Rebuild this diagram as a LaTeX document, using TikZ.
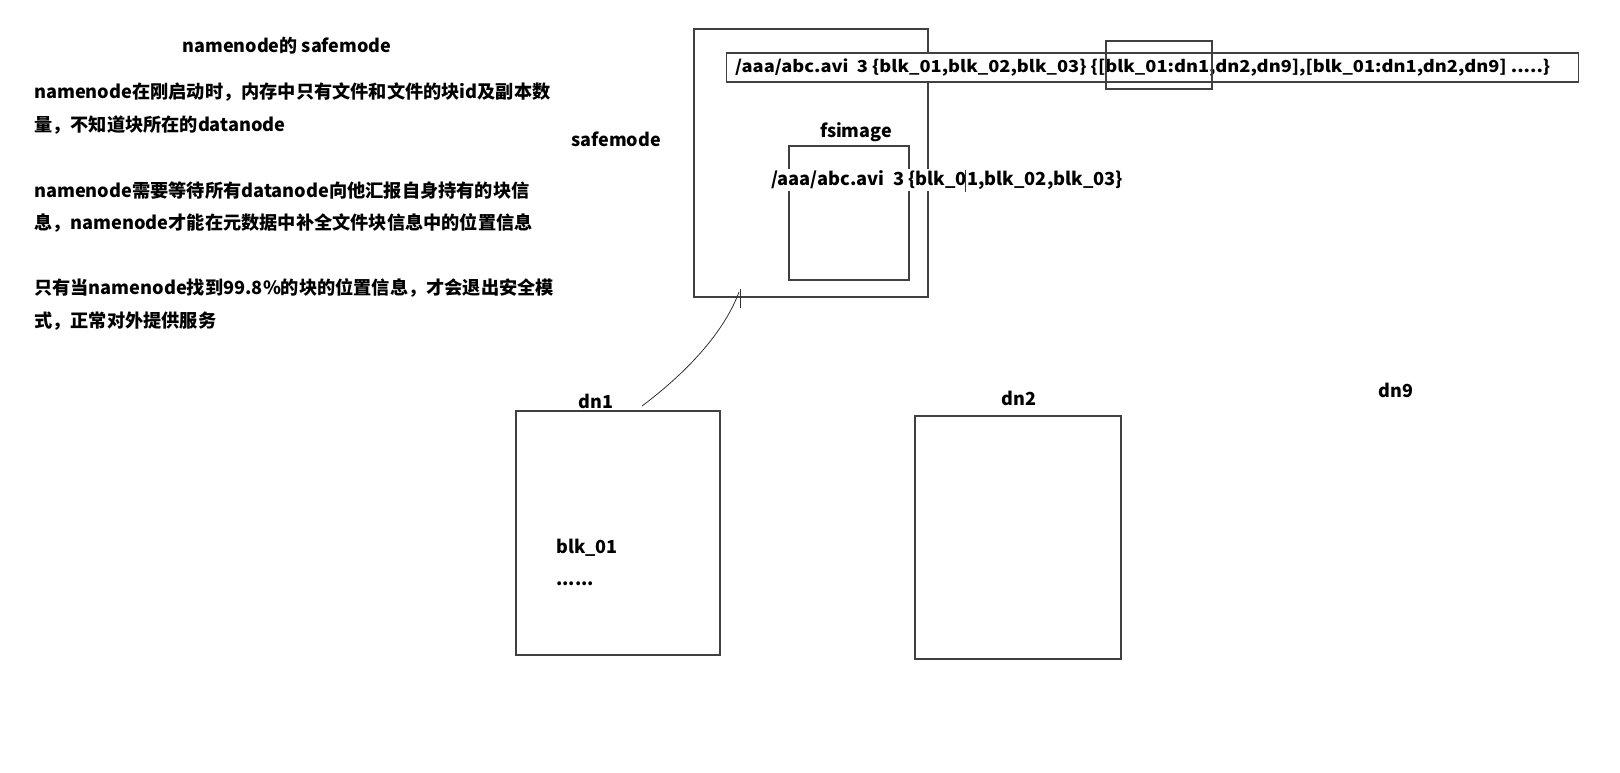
\documentclass[tikz,border=0pt]{standalone}
\usepackage{fontspec}
\setmainfont{Noto Sans CJK SC}
\usepackage{graphicx}
\begin{document}
\begin{tikzpicture}[x=1pt,y=-1pt,
  box/.style={draw=black!75, line width=1.2pt, inner sep=0pt, outer sep=0pt, fill=none},
  lbl/.style={inner sep=0pt, font=\fontsize{18}{20}\selectfont\bfseries},
  para/.style={inner sep=0pt, anchor=west, font=\fontsize{18.2}{20}\selectfont\bfseries},
  link/.style={draw=black!80, line width=0.8pt}]
\useasboundingbox (0,0) rectangle (1620,773);
\fill[white] (0,0) rectangle (1620,773);

% left text
\node[lbl] (title) at (287,46) {namenode的 safemode};
\node[para] (p1a) at (34,92) {namenode在刚启动时，内存中只有文件和文件的块id及副本数};
\node[para] (p1b) at (34,125) {量，不知道块所在的datanode};
\node[para] (p2a) at (34,191) {namenode需要等待所有datanode向他汇报自身持有的块信};
\node[para] (p2b) at (34,223) {息，namenode才能在元数据中补全文件块信息中的位置信息};
\node[para] (p3a) at (34,288) {只有当namenode找到99.8\%的块的位置信息，才会退出安全模};
\node[para] (p3b) at (34,321) {式，正常对外提供服务};

% namenode box
\node[box, minimum width=234pt, minimum height=268pt] (nn) at (811,163) {};
\node[lbl] (safe) at (616,139) {safemode};

% fsimage
\node[box, minimum width=120pt, minimum height=134pt] (fs) at (849,213) {};
\node[lbl] (fslbl) at (856,132) {fsimage};
\node[inner sep=1pt, fill=white, anchor=west, font=\fontsize{18}{20}\selectfont\bfseries] (fstext) at (770,180)
  {\resizebox{352pt}{\height}{/aaa/abc.avi\ \ 3 \{blk\_01,blk\_02,blk\_03\}}};
\coordinate (tkA) at (965,170);
\coordinate (tkB) at (965,192);
\draw[link, line width=1pt] (tkA) -- (tkB);

% long metadata box
\node[box, minimum width=852pt, minimum height=29pt, fill=white] (meta) at (1152.5,67.5) {};
\node[inner sep=0pt, anchor=west, font=\fontsize{16.5}{18}\selectfont\bfseries] (metatext) at (735,67.5)
  {\resizebox{815pt}{\height}{/aaa/abc.avi\ \ 3 \{blk\_01,blk\_02,blk\_03\} \{[blk\_01:dn1,dn2,dn9],[blk\_01:dn1,dn2,dn9] .....\}}};
\node[box, minimum width=106pt, minimum height=48pt] (hl) at (1159,65) {};

% datanodes
\node[box, minimum width=204pt, minimum height=244pt] (dn1) at (618,533) {};
\node[lbl] (dn1lbl) at (596,401) {dn1};
\node[lbl, anchor=west] (blk) at (556,548) {blk\_01};
\node[lbl, anchor=west] (dots) at (556,584) {......};

\node[box, minimum width=206pt, minimum height=243pt] (dn2) at (1018,537.5) {};
\node[lbl] (dn2lbl) at (1019,398) {dn2};

\node[lbl] (dn9lbl) at (1396,390) {dn9};

% connector
\coordinate (cA) at (642,406);
\coordinate (cB) at (739,292);
\draw[link] (cA) .. controls (690,370) and (725,330) .. (cB);
\coordinate (tA) at (740,289);
\coordinate (tB) at (740,308);
\draw[link, line width=1pt] (tA) -- (tB);
\end{tikzpicture}
\end{document}
